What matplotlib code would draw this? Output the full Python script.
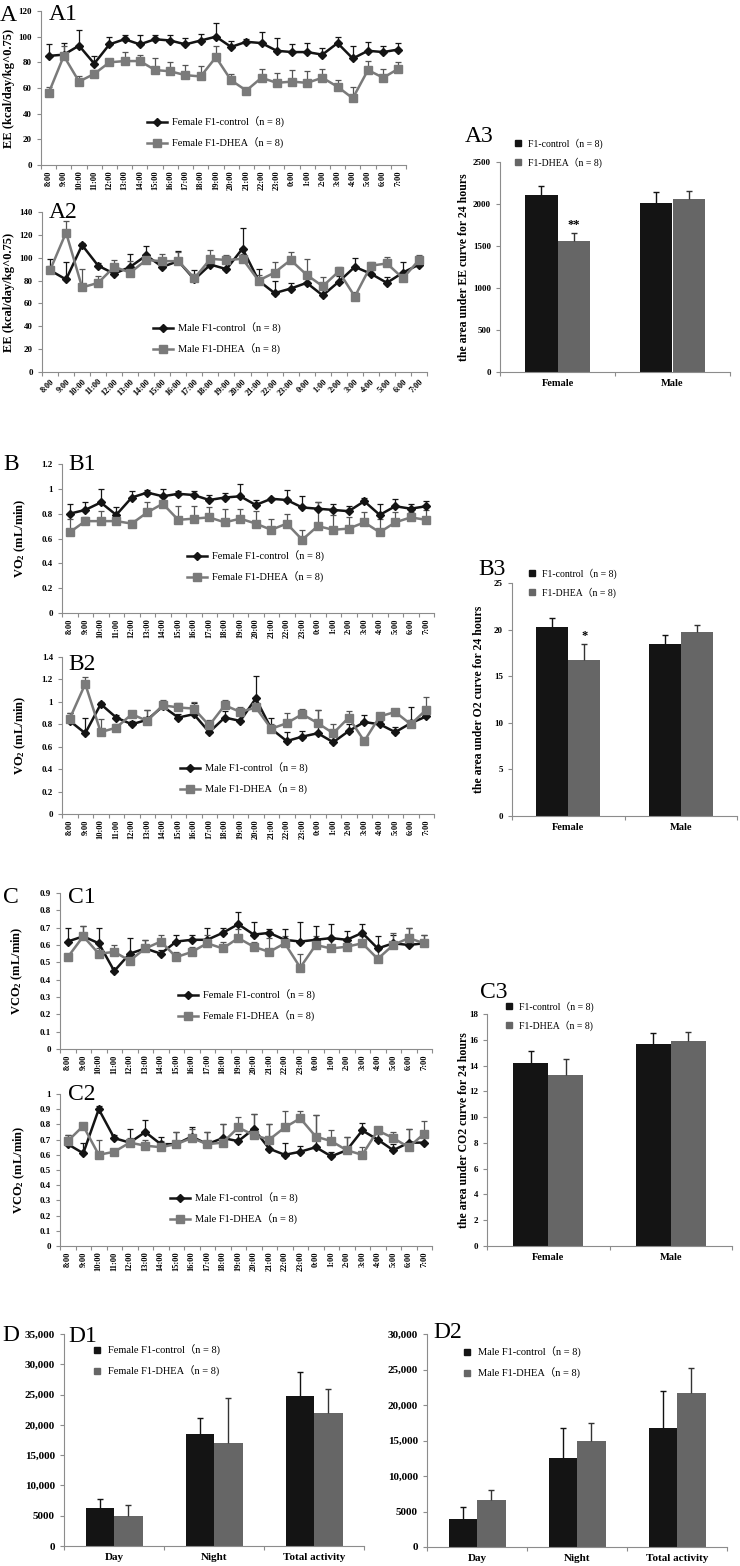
import numpy as np
import matplotlib.pyplot as plt
from matplotlib.lines import Line2D

plt.rcParams['font.family'] = ['Liberation Serif', 'Noto Sans CJK SC']
plt.rcParams['mathtext.fontset'] = 'custom'
plt.rcParams['mathtext.rm'] = 'Liberation Serif:bold'
plt.rcParams['mathtext.it'] = 'Liberation Serif:italic:bold'
plt.rcParams['mathtext.bf'] = 'Liberation Serif:bold'

hours = ["8:00", "9:00", "10:00", "11:00", "12:00", "13:00", "14:00", "15:00",
         "16:00", "17:00", "18:00", "19:00", "20:00", "21:00", "22:00", "23:00",
         "0:00", "1:00", "2:00", "3:00", "4:00", "5:00", "6:00", "7:00"]

# A1 female EE
ee_f_ctrl = [85, 86, 93, 79, 94, 98, 94, 98, 97, 94, 97, 100, 92, 96, 95, 89, 88, 88, 86, 95, 83, 89, 88, 90]
ee_f_ctrl_err = [9, 9, 12, 6, 6, 3, 7, 3, 4, 5, 5, 11, 5, 2, 9, 10, 6, 7, 5, 5, 10, 7, 5, 5]
ee_f_dhea = [56, 85, 65, 71, 80, 81, 81, 74, 73, 70, 69, 84, 66, 58, 68, 64, 65, 64, 68, 61, 52, 74, 68, 75]
ee_f_dhea_err = [5, 8, 4, 3, 2, 7, 5, 9, 7, 8, 8, 9, 5, 2, 7, 8, 9, 9, 7, 5, 9, 7, 7, 5]
# A2 male EE
ee_m_ctrl = [89, 81, 111, 93, 86, 92, 102, 92, 97, 81, 94, 90, 108, 80, 69, 73, 78, 67, 79, 92, 86, 78, 87, 94]
ee_m_ctrl_err = [10, 15, 2, 2, 5, 11, 8, 5, 9, 8, 7, 6, 18, 10, 11, 5, 5, 8, 5, 8, 3, 5, 9, 4]
ee_m_dhea = [89, 122, 74, 78, 92, 87, 98, 97, 97, 82, 99, 98, 99, 80, 87, 98, 85, 75, 88, 66, 93, 95, 82, 98]
ee_m_dhea_err = [4, 10, 16, 6, 6, 10, 4, 6, 8, 4, 8, 4, 4, 5, 9, 7, 14, 8, 4, 4, 3, 6, 4, 4]

# B1 female VO2
vo2_f_ctrl = [0.80, 0.83, 0.89, 0.79, 0.93, 0.97, 0.94, 0.96, 0.95, 0.91, 0.93, 0.94,
              0.87, 0.92, 0.91, 0.85, 0.84, 0.83, 0.82, 0.90, 0.79, 0.86, 0.84, 0.86]
vo2_f_ctrl_err = [0.08, 0.06, 0.11, 0.06, 0.05, 0.02, 0.06, 0.02, 0.03, 0.04, 0.04, 0.10,
                  0.04, 0.01, 0.08, 0.09, 0.05, 0.05, 0.04, 0.03, 0.09, 0.06, 0.04, 0.04]
vo2_f_dhea = [0.65, 0.74, 0.74, 0.74, 0.72, 0.81, 0.88, 0.75, 0.76, 0.77, 0.73, 0.76,
              0.72, 0.67, 0.72, 0.59, 0.70, 0.67, 0.68, 0.73, 0.65, 0.73, 0.77, 0.75]
vo2_f_dhea_err = [0.11, 0.03, 0.08, 0.05, 0.03, 0.08, 0.02, 0.11, 0.10, 0.08, 0.11, 0.08,
                  0.10, 0.09, 0.08, 0.08, 0.19, 0.12, 0.09, 0.08, 0.11, 0.08, 0.04, 0.08]
# B2 male VO2
vo2_m_ctrl = [0.83, 0.72, 0.98, 0.86, 0.80, 0.84, 0.96, 0.86, 0.89, 0.73, 0.86, 0.83,
              1.03, 0.76, 0.65, 0.69, 0.72, 0.64, 0.74, 0.82, 0.80, 0.73, 0.81, 0.87]
vo2_m_ctrl_err = [0.07, 0.14, 0.02, 0.02, 0.03, 0.09, 0.05, 0.03, 0.10, 0.06, 0.06, 0.08,
                  0.20, 0.10, 0.08, 0.05, 0.21, 0.06, 0.06, 0.06, 0.03, 0.05, 0.14, 0.06]
vo2_m_dhea = [0.85, 1.16, 0.73, 0.77, 0.89, 0.83, 0.97, 0.95, 0.94, 0.79, 0.97, 0.91,
              0.95, 0.76, 0.81, 0.89, 0.81, 0.72, 0.86, 0.65, 0.87, 0.91, 0.80, 0.93]
vo2_m_dhea_err = [0.05, 0.06, 0.12, 0.03, 0.03, 0.10, 0.05, 0.04, 0.06, 0.05, 0.05, 0.04,
                  0.04, 0.04, 0.09, 0.05, 0.12, 0.08, 0.06, 0.03, 0.03, 0.03, 0.04, 0.11]

# C1 female VCO2
vco2_f_ctrl = [0.62, 0.65, 0.61, 0.45, 0.55, 0.58, 0.55, 0.62, 0.63, 0.63, 0.67, 0.72,
               0.66, 0.67, 0.63, 0.62, 0.63, 0.64, 0.63, 0.67, 0.58, 0.61, 0.60, 0.61]
vco2_f_ctrl_err = [0.08, 0.06, 0.09, 0.02, 0.09, 0.05, 0.02, 0.04, 0.03, 0.07, 0.03, 0.07,
                   0.07, 0.02, 0.06, 0.11, 0.08, 0.08, 0.05, 0.05, 0.07, 0.05, 0.10, 0.05]
vco2_f_dhea = [0.53, 0.65, 0.55, 0.56, 0.51, 0.58, 0.62, 0.53, 0.56, 0.61, 0.58, 0.64,
               0.59, 0.56, 0.61, 0.47, 0.60, 0.58, 0.59, 0.61, 0.52, 0.60, 0.64, 0.61]
vco2_f_dhea_err = [0.02, 0.06, 0.03, 0.04, 0.03, 0.05, 0.04, 0.03, 0.03, 0.05, 0.04, 0.05,
                   0.03, 0.08, 0.04, 0.08, 0.05, 0.06, 0.04, 0.04, 0.05, 0.07, 0.06, 0.05]
# C2 male VCO2
vco2_m_ctrl = [0.67, 0.61, 0.90, 0.71, 0.68, 0.75, 0.67, 0.67, 0.72, 0.67, 0.71, 0.69,
               0.77, 0.64, 0.60, 0.62, 0.65, 0.59, 0.63, 0.76, 0.70, 0.63, 0.68, 0.68]
vco2_m_ctrl_err = [0.06, 0.07, 0.02, 0.02, 0.09, 0.08, 0.05, 0.08, 0.06, 0.08, 0.09, 0.05,
                   0.10, 0.16, 0.08, 0.04, 0.21, 0.03, 0.09, 0.05, 0.04, 0.04, 0.09, 0.04]
vco2_m_dhea = [0.69, 0.79, 0.60, 0.62, 0.68, 0.66, 0.65, 0.67, 0.71, 0.67, 0.68, 0.78,
               0.73, 0.70, 0.78, 0.84, 0.72, 0.69, 0.63, 0.60, 0.76, 0.71, 0.65, 0.74]
vco2_m_dhea_err = [0.04, 0.02, 0.10, 0.02, 0.03, 0.04, 0.04, 0.08, 0.06, 0.08, 0.12, 0.07,
                   0.14, 0.10, 0.11, 0.05, 0.14, 0.07, 0.09, 0.05, 0.02, 0.04, 0.12, 0.08]

# A3 / B3 / C3 areas under curve
sexes = ["Female", "Male"]
auc_ee_ctrl = [2110, 2010]
auc_ee_ctrl_err = [100, 130]
auc_ee_dhea = [1555, 2065]
auc_ee_dhea_err = [100, 90]
auc_o2_ctrl = [20.3, 18.5]
auc_o2_ctrl_err = [0.9, 0.9]
auc_o2_dhea = [16.7, 19.7]
auc_o2_dhea_err = [1.8, 0.8]
auc_co2_ctrl = [14.2, 15.7]
auc_co2_ctrl_err = [0.9, 0.8]
auc_co2_dhea = [13.3, 15.9]
auc_co2_dhea_err = [1.2, 0.7]

# D1 / D2 activity
periods = ["Day", "Night", "Total activity"]
act_f_ctrl = [6300, 18500, 24700]
act_f_ctrl_err = [1500, 2700, 4100]
act_f_dhea = [5000, 17000, 22000]
act_f_dhea_err = [1700, 7500, 4000]
act_m_ctrl = [4000, 12600, 16700]
act_m_ctrl_err = [1600, 4100, 5300]
act_m_dhea = [6600, 14900, 21700]
act_m_dhea_err = [1400, 2600, 3500]

W, H = 740, 1566
BLACK = '#141414'
GRAY_LINE = '#7a7a7a'
GRAY_BAR = '#666666'
AXC = '#8c8c8c'

fig = plt.figure(figsize=(W / 100, H / 100), dpi=100)


def fx(x):
    return x / W


def fy(y):
    return 1 - y / H


def add_ax(l, r, t, b):
    ax = fig.add_axes([l / W, 1 - b / H, (r - l) / W, (b - t) / H])
    for s in ['top', 'right']:
        ax.spines[s].set_visible(False)
    for s in ['left', 'bottom']:
        ax.spines[s].set_color(AXC)
        ax.spines[s].set_linewidth(0.8)
    ax.tick_params(colors=AXC, labelcolor='black', width=0.8, length=3)
    return ax


def plus_err(ax, x, y, err, color, lw=0.9):
    eb = ax.errorbar(x, y, yerr=[np.zeros(len(err)), err], fmt='none', ecolor=color,
                     elinewidth=lw, capsize=2.5, capthick=lw, zorder=2)
    eb.lines[1][0].set_visible(False)


def num(v):
    return f"{v:g}"


def between_ticks(ax, n):
    # category axis with tick marks between the categories
    ax.set_xticks(np.arange(n + 1) - 0.5, minor=True)
    ax.tick_params(axis='x', which='major', length=0)
    ax.tick_params(axis='x', which='minor', length=3, width=0.8, color=AXC)


def line_panel(box, ctrl, ctrl_err, dhea, dhea_err, yticks, ylabel, label_right, labels, leg_left, leg_mid,
               rot=90):
    ax = add_ax(*box)
    x = np.arange(len(hours))
    plus_err(ax, x, ctrl, ctrl_err, BLACK)
    plus_err(ax, x, dhea, dhea_err, '#555555')
    ax.plot(x, ctrl, color=BLACK, lw=1.8, marker='D', ms=3.8, zorder=3)
    ax.plot(x, dhea, color=GRAY_LINE, lw=1.8, marker='s', ms=6, zorder=4)
    ax.set_xlim(-0.5, len(hours) - 0.5)
    ax.set_ylim(yticks[0], yticks[-1])
    if rot == 90:
        ax.set_xticks(x, labels=hours, rotation=90, fontsize=6, fontweight='bold')
    else:
        ax.set_xticks(x, labels=hours, rotation=rot, ha='right', va='top', rotation_mode='anchor',
                      fontsize=6, fontweight='bold')
    between_ticks(ax, len(hours))
    ax.tick_params(axis='x', which='major', pad=4)
    ax.set_yticks(yticks, labels=[num(v) for v in yticks], fontsize=6.5, fontweight='bold')
    ax.set_ylabel(ylabel, fontsize=9, fontweight='bold')
    ax.yaxis.set_label_coords((label_right - box[0]) / (box[1] - box[0]), 0.5)
    handles = [Line2D([], [], color=BLACK, lw=1.8, marker='D', ms=3.8),
               Line2D([], [], color=GRAY_LINE, lw=1.8, marker='s', ms=6)]
    ax.legend(handles, labels, loc='center left', bbox_to_anchor=(fx(leg_left), fy(leg_mid)),
              bbox_transform=fig.transFigure, frameon=False, fontsize=7.5, handlelength=1.9,
              handletextpad=0.5, labelspacing=0.9, borderpad=0, borderaxespad=0)
    return ax


def bar_panel(box, cats, ctrl, ctrl_err, dhea, dhea_err, yticks, ticklabels, ylabel, label_right,
              labels, leg_left, leg_mid, cat_size=7.5, tick_size=6.5, leg_size=7):
    ax = add_ax(*box)
    x = np.arange(len(cats))
    w = 0.285
    ax.bar(x - w / 2, ctrl, w, color=BLACK, zorder=1)
    ax.bar(x + w / 2, dhea, w, color=GRAY_BAR, zorder=1)
    plus_err(ax, x - w / 2, ctrl, ctrl_err, '#111111', lw=1)
    plus_err(ax, x + w / 2, dhea, dhea_err, '#333333', lw=1)
    ax.set_xlim(-0.5, len(cats) - 0.5)
    ax.set_ylim(yticks[0], yticks[-1])
    ax.set_xticks(x, labels=cats, fontsize=cat_size, fontweight='bold')
    between_ticks(ax, len(cats))
    ax.tick_params(axis='x', which='major', pad=5)
    ax.set_yticks(yticks, labels=ticklabels, fontsize=tick_size, fontweight='bold')
    if ylabel:
        ax.set_ylabel(ylabel, fontsize=8.5, fontweight='bold')
        ax.yaxis.set_label_coords((label_right - box[0]) / (box[1] - box[0]), 0.5)
    handles = [Line2D([], [], color=BLACK, lw=0, marker='s', ms=4),
               Line2D([], [], color=GRAY_BAR, lw=0, marker='s', ms=4)]
    ax.legend(handles, labels, loc='center left', bbox_to_anchor=(fx(leg_left), fy(leg_mid)),
              bbox_transform=fig.transFigure, frameon=False, fontsize=leg_size, handlelength=0.8,
              handletextpad=0.6, labelspacing=0.9, borderpad=0, borderaxespad=0)
    return ax


def panel_label(x, y, s):
    fig.text(fx(x), fy(y), s, fontsize=17, va='baseline', ha='left', family='Liberation Serif')


ee_label = "EE (kcal/day/kg^0.75)"
f_labels = ["Female F1-control（n = 8)", "Female F1-DHEA（n = 8)"]
m_labels = ["Male F1-control（n = 8)", "Male F1-DHEA（n = 8)"]
g_labels = ["F1-control（n = 8)", "F1-DHEA（n = 8)"]

# Row A
line_panel((41, 406, 11, 165), ee_f_ctrl, ee_f_ctrl_err, ee_f_dhea, ee_f_dhea_err,
           [0, 20, 40, 60, 80, 100, 120], ee_label, 15, f_labels, 147, 133)
line_panel((42, 427, 212, 372), ee_m_ctrl, ee_m_ctrl_err, ee_m_dhea, ee_m_dhea_err,
           [0, 20, 40, 60, 80, 100, 120, 140], ee_label, 15, m_labels, 153, 339, rot=45)
t = [0, 500, 1000, 1500, 2000, 2500]
a3 = bar_panel((500, 730, 162, 372), sexes, auc_ee_ctrl, auc_ee_ctrl_err, auc_ee_dhea, auc_ee_dhea_err,
               t, [num(v) for v in t], "the area under EE curve for 24 hours", 470, g_labels, 514, 153)
a3.text(0 + 0.1425, auc_ee_dhea[0] + auc_ee_dhea_err[0] + 20, "**", ha='center', va='bottom',
        fontsize=9, fontweight='bold')

# Row B
vo2_label = "VO$_2$ (mL/min)"
line_panel((62, 434, 464, 613), vo2_f_ctrl, vo2_f_ctrl_err, vo2_f_dhea, vo2_f_dhea_err,
           [0, 0.2, 0.4, 0.6, 0.8, 1.0, 1.2], vo2_label, 28, f_labels, 187, 567)
line_panel((62, 434, 657, 814), vo2_m_ctrl, vo2_m_ctrl_err, vo2_m_dhea, vo2_m_dhea_err,
           [0, 0.2, 0.4, 0.6, 0.8, 1.0, 1.2, 1.4], vo2_label, 28, m_labels, 180, 779)
t = [0, 5, 10, 15, 20, 25]
b3 = bar_panel((512, 737, 583, 816), sexes, auc_o2_ctrl, auc_o2_ctrl_err, auc_o2_dhea, auc_o2_dhea_err,
               t, [num(v) for v in t], "the area under O2 curve for 24 hours", 485, g_labels, 528, 583)
b3.text(0 + 0.1425, auc_o2_dhea[0] + auc_o2_dhea_err[0] + 0.15, "*", ha='center', va='bottom',
        fontsize=9, fontweight='bold')

# Row C
vco2_label = "VCO$_2$ (mL/min)"
line_panel((60, 432, 893, 1049), vco2_f_ctrl, vco2_f_ctrl_err, vco2_f_dhea, vco2_f_dhea_err,
           [0, 0.1, 0.2, 0.3, 0.4, 0.5, 0.6, 0.7, 0.8, 0.9], vco2_label, 25, f_labels, 178, 1006)
line_panel((60, 432, 1094, 1246), vco2_m_ctrl, vco2_m_ctrl_err, vco2_m_dhea, vco2_m_dhea_err,
           [0, 0.1, 0.2, 0.3, 0.4, 0.5, 0.6, 0.7, 0.8, 0.9, 1.0], vco2_label, 27, m_labels, 170, 1209)
t = [0, 2, 4, 6, 8, 10, 12, 14, 16, 18]
bar_panel((487, 732, 1014, 1246), sexes, auc_co2_ctrl, auc_co2_ctrl_err, auc_co2_dhea, auc_co2_dhea_err,
          t, [num(v) for v in t], "the area under CO2 curve for 24 hours", 470, g_labels, 505, 1016)

# Row D


def act_fmt(v):
    return f"{v:,}" if v >= 10000 else str(v)


t = [0, 5000, 10000, 15000, 20000, 25000, 30000, 35000]
bar_panel((64, 364, 1334, 1546), periods, act_f_ctrl, act_f_ctrl_err, act_f_dhea, act_f_dhea_err,
          t, [act_fmt(v) for v in t], None, 0, f_labels, 93, 1361, cat_size=8, tick_size=8, leg_size=7.5)
t = [0, 5000, 10000, 15000, 20000, 25000, 30000]
bar_panel((427, 727, 1334, 1547), periods, act_m_ctrl, act_m_ctrl_err, act_m_dhea, act_m_dhea_err,
          t, [act_fmt(v) for v in t], None, 0, m_labels, 463, 1363, cat_size=8, tick_size=8, leg_size=7.5)

panel_label(0, 21, "A")
panel_label(49, 20, "A1")
panel_label(49, 218, "A2")
panel_label(465, 142, "A3")
panel_label(3, 470, "B")
panel_label(68, 470, "B1")
panel_label(68, 670, "B2")
panel_label(478, 575, "B3")
panel_label(3, 903, "C")
panel_label(68, 903, "C1")
panel_label(68, 1100, "C2")
panel_label(480, 998, "C3")
panel_label(2, 1341, "D")
panel_label(68, 1342, "D1")
panel_label(433, 1338, "D2")

fig.savefig("out.png", dpi=100)
